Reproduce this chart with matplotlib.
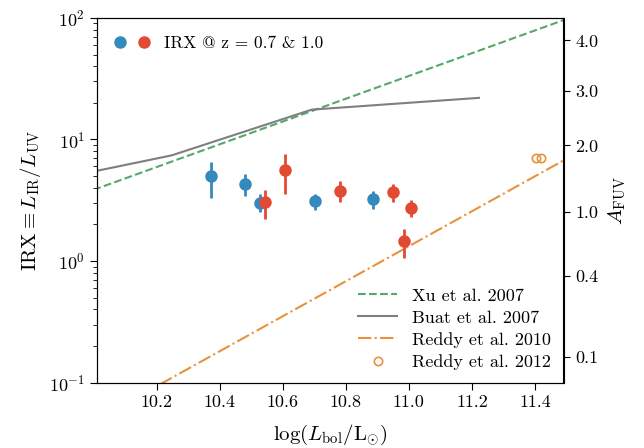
import numpy as np
import matplotlib
matplotlib.use("Agg")
import matplotlib.pyplot as plt
from matplotlib.legend_handler import HandlerTuple
from matplotlib.lines import Line2D

plt.rcParams['font.family'] = ['cmr10', 'DejaVu Serif']
plt.rcParams['mathtext.fontset'] = 'cm'
plt.rcParams['axes.formatter.use_mathtext'] = True
plt.rcParams['axes.unicode_minus'] = False

# --- data ---
# z = 0.7 sample (blue)
lbol_z07 = [10.374, 10.481, 10.529, 10.703, 10.887]
irx_z07 = [4.98, 4.30, 3.03, 3.10, 3.22]
irx_z07_hi = [6.53, 5.18, 3.54, 3.59, 3.75]
irx_z07_lo = [3.33, 3.43, 2.53, 2.65, 2.66]

# z = 1.0 sample (red)
lbol_z10 = [10.545, 10.608, 10.782, 10.950, 11.006, 10.983]
irx_z10 = [3.06, 5.58, 3.77, 3.70, 2.75, 1.46]
irx_z10_hi = [3.87, 7.57, 4.53, 4.31, 3.20, 1.85]
irx_z10_lo = [2.23, 3.59, 3.06, 3.06, 2.30, 1.06]

# literature relations
xu_lbol = [10.0, 11.5]
xu_irx = [3.85, 98.0]

buat_lbol = [10.0, 10.248, 10.692, 11.222]
buat_irx = [5.45, 7.4, 17.6, 22.0]

reddy10_lbol = [10.15, 11.5]
reddy10_irx = [0.079, 6.95]

reddy12_lbol = [11.403, 11.418]
reddy12_irx = [7.1, 7.1]

afuv_ticks = [4.0, 3.0, 2.0, 1.0, 0.4, 0.1]

blue = '#348ABD'
red = '#E24A33'
green = '#55A868'
gray = '#7f7f7f'
orange = '#E8913E'

fig = plt.figure(figsize=(6.44, 4.48), dpi=100)
ax = fig.add_axes([0.150, 0.146, 0.725, 0.814])

l_xu, = ax.plot(xu_lbol, xu_irx, ls='--', color=green, lw=1.5, label='Xu et al. 2007')
l_buat, = ax.plot(buat_lbol, buat_irx, ls='-', color=gray, lw=1.5, label='Buat et al. 2007')
l_r10, = ax.plot(reddy10_lbol, reddy10_irx, ls='-.', color=orange, lw=1.5, label='Reddy et al. 2010')
l_r12, = ax.plot(reddy12_lbol, reddy12_irx, ls='none', marker='o', mfc='none', mec=orange,
                 ms=6, mew=1.2, label='Reddy et al. 2012')

def errs(v, hi, lo):
    v = np.array(v); return [v - np.array(lo), np.array(hi) - v]

ax.errorbar(lbol_z07, irx_z07, yerr=errs(irx_z07, irx_z07_hi, irx_z07_lo), fmt='o',
            color=blue, ms=8, elinewidth=2, capsize=0, zorder=3)
ax.errorbar(lbol_z10, irx_z10, yerr=errs(irx_z10, irx_z10_hi, irx_z10_lo), fmt='o',
            color=red, ms=8, elinewidth=2, capsize=0, zorder=4)

ax.set_yscale('log')
ax.set_xlim(10.01, 11.49)
ax.set_ylim(0.1, 100)
ax.set_xticks([10.2, 10.4, 10.6, 10.8, 11.0, 11.2, 11.4])
ax.set_xticklabels(['10.2', '10.4', '10.6', '10.8', '11.0', '11.2', '11.4'])
ax.tick_params(which='major', direction='out', length=5, labelsize=13)
ax.tick_params(which='minor', direction='out', length=3)
ax.tick_params(axis='x', which='minor', bottom=False)
ax.set_xlabel(r'$\log(L_{\rm bol}/{\rm L}_{\odot})$', fontsize=15, labelpad=9)
ax.set_ylabel(r'${\rm IRX} \equiv L_{\rm IR}/L_{\rm UV}$', fontsize=15)

# right axis: A_FUV
ax2 = ax.twinx()
ax2.set_yscale('log')
ax2.set_ylim(0.1, 100)
irx_ticks = [(10 ** (a / 2.5) - 1) / 0.595 for a in afuv_ticks]
ax2.set_yticks(irx_ticks)
ax2.set_yticklabels(['%.1f' % a for a in afuv_ticks])
ax2.yaxis.set_minor_locator(matplotlib.ticker.NullLocator())
ax2.tick_params(which='major', direction='out', length=5, labelsize=13)
ax2.set_ylabel(r'$A_{\rm FUV}$', fontsize=15, labelpad=6)

# legends
h_blue = Line2D([], [], ls='none', marker='o', color=blue, ms=8)
h_red = Line2D([], [], ls='none', marker='o', color=red, ms=8)
leg1 = ax.legend([(h_blue, h_red)], ['IRX @ z = 0.7 & 1.0'],
                 handler_map={tuple: HandlerTuple(ndivide=None, pad=0.6)},
                 loc='upper left', frameon=False, fontsize=12.5, handlelength=2.1,
                 borderaxespad=0.6)
ax.add_artist(leg1)
ax.legend(handles=[l_xu, l_buat, l_r10, l_r12], loc='lower right', frameon=False,
          fontsize=13, handlelength=2.2, handletextpad=0.8, labelspacing=0.35,
          borderaxespad=0.3)

fig.savefig('out.png', dpi=100)
